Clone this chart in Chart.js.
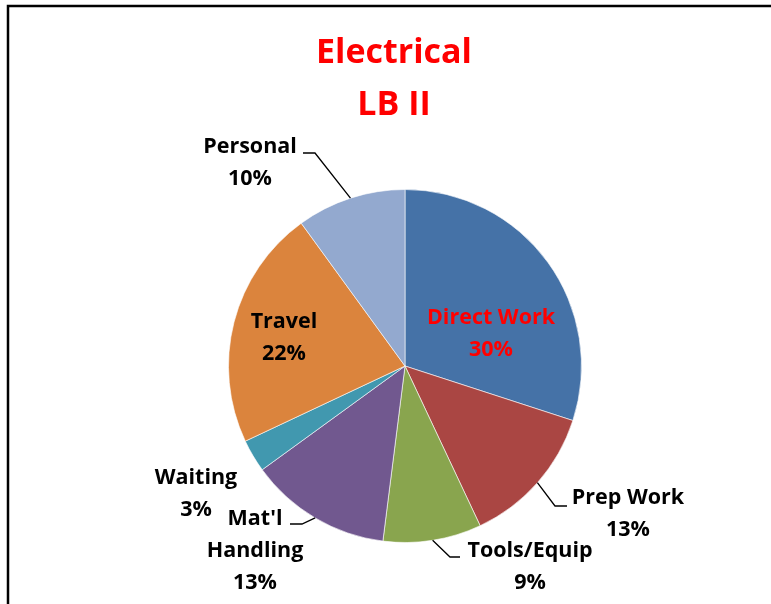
<!DOCTYPE html>
<html>
<head>
<meta charset="utf-8">
<style>
html,body{margin:0;padding:0;background:#fff;}
canvas{display:block;}
</style>
<script src="https://cdn.jsdelivr.net/npm/chart.js@4/dist/chart.umd.min.js"></script>
</head>
<body>
<canvas id="c" width="771" height="604"></canvas>
<script>
const categories = ["Direct Work", "Prep Work", "Tools/Equip", "Mat'l Handling", "Waiting", "Travel", "Personal"];
const labelLines = [["Direct Work"], ["Prep Work"], ["Tools/Equip"], ["Mat'l", "Handling"], ["Waiting"], ["Travel"], ["Personal"]];
const values = [30, 13, 9, 13, 3, 22, 10];
const colors = ["#4572A7", "#AA4643", "#89A54E", "#71588F", "#4198AF", "#DB843D", "#93A9CF"];
const titleLines = ["Electrical", "LB II"];

// label placement (text block centre relative to pie centre, leader elbow/end)
const labelLayout = [
  {dx: 86, dy: -32, color: "#FF0000"},
  {dx: 223, dy: 148, elbow: [150, 140], end: [162, 140]},
  {dx: 125, dy: 201, elbow: [45, 191], end: [55, 191]},
  {dx: -150, dy: 185, elbow: [-103, 158], end: [-115, 158]},
  {dx: -209, dy: 128},
  {dx: -121, dy: -28, color: "#000000"},
  {dx: -155, dy: -203, elbow: [-90, -213], end: [-102, -213]}
];

const FONT = "'Open Sans', Lato, sans-serif";

const labelPlugin = {
  id: 'customLabels',
  beforeDraw(chart) {
    const ctx = chart.ctx;
    ctx.save();
    ctx.fillStyle = '#fff';
    ctx.fillRect(0, 0, chart.width, chart.height);
    ctx.strokeStyle = '#000';
    ctx.lineWidth = 2.5;
    ctx.beginPath();
    ctx.moveTo(8, chart.height + 2);
    ctx.lineTo(8, 6);
    ctx.lineTo(chart.width + 2, 6);
    ctx.stroke();
    ctx.restore();
  },
  afterDraw(chart) {
    const ctx = chart.ctx;
    const meta = chart.getDatasetMeta(0);
    const arc0 = meta.data[0];
    const cx = arc0.x, cy = arc0.y;
    ctx.save();
    // title
    ctx.fillStyle = '#FF0000';
    ctx.font = "bold 34px " + FONT;
    ctx.textAlign = 'center';
    ctx.textBaseline = 'middle';
    ctx.fillText(titleLines[0], 394, 53);
    ctx.fillText(titleLines[1], 394, 105);

    ctx.font = "bold 21.5px " + FONT;
    const lh = 32;
    meta.data.forEach((arc, i) => {
      const L = labelLayout[i];
      const lines = labelLines[i].concat([values[i] + "%"]);
      const tx = cx + L.dx, ty = cy + L.dy;
      const n = lines.length;
      ctx.fillStyle = L.color || '#000';
      lines.forEach((s, k) => {
        ctx.fillText(s, tx, ty + (k - (n - 1) / 2) * lh);
      });
      if (L.elbow) {
        const mid = (arc.startAngle + arc.endAngle) / 2;
        const r = arc.outerRadius;
        ctx.strokeStyle = '#000';
        ctx.lineWidth = 1.3;
        ctx.beginPath();
        ctx.moveTo(cx + r * Math.cos(mid), cy + r * Math.sin(mid));
        ctx.lineTo(cx + L.elbow[0], cy + L.elbow[1]);
        ctx.lineTo(cx + L.end[0], cy + L.end[1]);
        ctx.stroke();
      }
    });
    ctx.restore();
  }
};

new Chart(document.getElementById('c'), {
  type: 'pie',
  data: {
    labels: categories,
    datasets: [{
      data: values,
      backgroundColor: colors,
      borderColor: 'rgba(255,255,255,0.6)',
      borderWidth: 1
    }]
  },
  options: {
    responsive: false,
    animation: false,
    layout: {padding: {left: 228, right: 189, top: 189, bottom: 61}},
    plugins: {
      legend: {display: false},
      title: {display: false},
      tooltip: {enabled: false}
    }
  },
  plugins: [labelPlugin]
});
</script>
</body>
</html>
